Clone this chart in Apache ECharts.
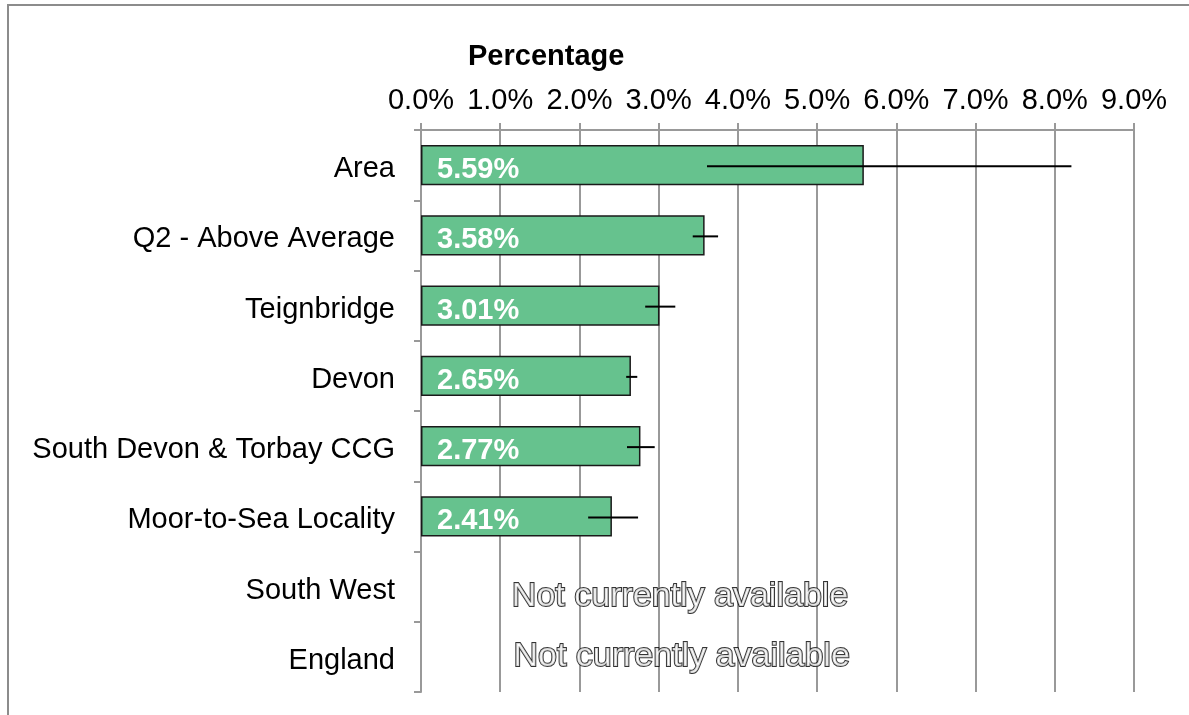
<!DOCTYPE html>
<html>
<head>
<meta charset="utf-8">
<script src="https://cdn.jsdelivr.net/npm/echarts@6/dist/echarts.min.js"></script>
<style>
html,body{margin:0;padding:0;background:#fff;}
#chart{width:1189px;height:715px;}
</style>
</head>
<body>
<div id="chart"></div>
<script>
const categories = ['Area','Q2 - Above Average','Teignbridge','Devon','South Devon & Torbay CCG','Moor-to-Sea Locality','South West','England'];
const values = [5.59, 3.58, 3.01, 2.65, 2.77, 2.41, null, null];
const lowerCI = [3.61, 3.43, 2.83, 2.59, 2.60, 2.11, null, null];
const upperCI = [8.21, 3.75, 3.21, 2.73, 2.95, 2.74, null, null];
const naCategories = ['South West','England'];
const naX = [3.27, 3.29];
const naText = 'Not currently available';
const xTicks = [0,1,2,3,4,5,6,7,8,9];

const FONT = '"Liberation Sans", Arial, sans-serif';
const chart = echarts.init(document.getElementById('chart'));

const errData = [];
categories.forEach((c, i) => {
  if (lowerCI[i] != null) errData.push([lowerCI[i], upperCI[i], i]);
});

chart.setOption({
  animation: false,
  backgroundColor: '#fff',
  textStyle: {fontFamily: FONT},
  graphic: [{
    type: 'rect',
    shape: {x: 8, y: 5, width: 1300, height: 900},
    style: {fill: 'none', stroke: '#8c8c8c', lineWidth: 2},
    silent: true, z: -1
  }],
  title: {
    text: 'Percentage',
    left: 463, top: 37,
    textStyle: {fontFamily: FONT, fontSize: 29, fontWeight: 'bold', color: '#000'}
  },
  grid: {left: 421, right: 55, top: 130, bottom: 23, containLabel: false},
  xAxis: {
    type: 'value', position: 'top', min: 0, max: 9, interval: 1,
    axisLine: {show: true, lineStyle: {color: '#999', width: 2}},
    axisTick: {show: true, length: 7, lineStyle: {color: '#999', width: 2}},
    splitLine: {show: true, lineStyle: {color: '#999', width: 2}},
    axisLabel: {
      margin: 15, fontFamily: FONT, fontSize: 29, color: '#000',
      formatter: v => xTicks.includes(v) ? v.toFixed(1) + '%' : ''
    }
  },
  yAxis: {
    type: 'category', data: categories, inverse: true,
    axisLine: {show: true, lineStyle: {color: '#999', width: 2}},
    axisTick: {show: true, length: 7, alignWithLabel: false, lineStyle: {color: '#999', width: 2}},
    axisLabel: {margin: 26, fontFamily: FONT, fontSize: 29, color: '#000', verticalAlign: 'top', lineHeight: 8}
  },
  series: [
    {
      type: 'bar', data: values, barWidth: '57%',
      itemStyle: {color: '#66C28E', borderColor: '#1a1a1a', borderWidth: 1.5},
      label: {
        show: true, position: 'insideLeft', distance: 16, offset: [0, 5],
        fontFamily: FONT, fontSize: 29, fontWeight: 'bold', color: '#fff',
        formatter: p => p.value == null ? '' : p.value.toFixed(2) + '%'
      },
      z: 2
    },
    {
      type: 'custom', data: errData, z: 5,
      encode: {x: [0, 1], y: 2},
      renderItem: (params, api) => {
        const idx = api.value(2);
        const p1 = api.coord([api.value(0), idx]);
        const p2 = api.coord([api.value(1), idx]);
        return {
          type: 'line',
          shape: {x1: p1[0], y1: p1[1] + 1, x2: p2[0], y2: p2[1] + 1},
          style: {stroke: '#000', lineWidth: 2}
        };
      }
    },
    {
      type: 'scatter', symbolSize: 0, z: 6,
      data: naCategories.map((c, i) => [naX[i], c]),
      label: {
        show: true, position: 'inside',
        formatter: naText,
        fontFamily: FONT, fontSize: 34, fontWeight: 'normal',
        color: '#fff', textBorderColor: '#000', textBorderWidth: 2
      },
      labelLayout: p => ({dy: p.dataIndex === 0 ? 10 : 0})
    }
  ]
});
</script>
</body>
</html>
